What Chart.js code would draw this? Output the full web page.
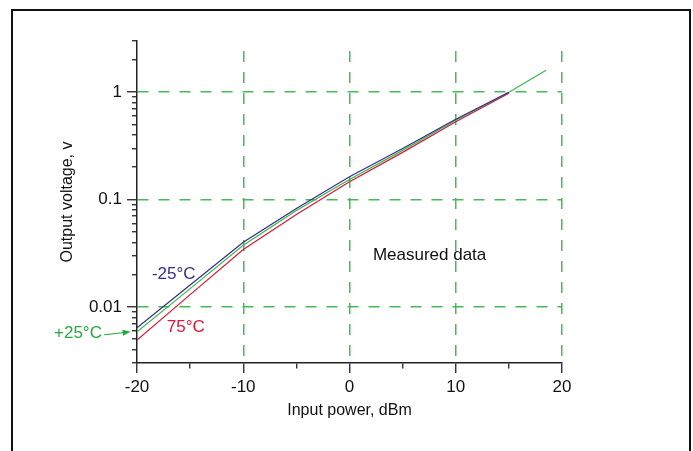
<!DOCTYPE html>
<html>
<head>
<meta charset="utf-8">
<script src="https://cdn.jsdelivr.net/npm/chart.js@4/dist/chart.umd.min.js"></script>
<style>
html, body { margin: 0; padding: 0; background: #fff; }
#wrap { width: 693px; height: 451px; }
</style>
</head>
<body>
<div id="wrap"><canvas id="detector" width="693" height="451"></canvas></div>
<script>
// measured detector output vs input power, three temperatures
const inputPower = [-20, -15, -10, -5, 0, 5, 10, 15];
const inputPowerRoom = [-20, -15, -10, -5, 0, 5, 10, 15, 18.5];
const voltsCold = [0.0064, 0.0160, 0.0400, 0.0826, 0.163, 0.299, 0.561, 1.0];
const voltsRoom = [0.00585, 0.0148, 0.0375, 0.0789, 0.154, 0.287, 0.549, 1.0, 1.6];
const voltsHot = [0.0049, 0.0130, 0.0343, 0.0726, 0.1465, 0.275, 0.530, 0.98];

const xTicks = [-20, -15, -10, -5, 0, 5, 10, 15, 20];
const xLabelled = [-20, -10, 0, 10, 20];
const xGrid = [-10, 0, 10, 20];
const yMajor = [0.01, 0.1, 1];
const yMinor = [0.003, 0.004, 0.005, 0.006, 0.007, 0.008, 0.009,
                0.02, 0.03, 0.04, 0.05, 0.06, 0.07, 0.08, 0.09,
                0.2, 0.3, 0.4, 0.5, 0.6, 0.7, 0.8, 0.9, 2, 3];
const yLabels = ['0.01', '0.1', '1'];

const notes = [
  {text: '-25\u00B0C', x: -18.6, y: 0.0200, color: '#3a2a8c', align: 'left'},
  {text: '75\u00B0C', x: -17.2, y: 0.0064, color: '#e0143c', align: 'left'},
  {text: '+25\u00B0C', x: -23.3, y: 0.0057, color: '#22aa3c', align: 'right'},
  {text: 'Measured data', x: 2.2, y: 0.0305, color: '#111', align: 'left'}
];
const arrowFrom = {x: -23.1, y: 0.0055};
const arrowTo = {x: -20.6, y: 0.00585};

const gridGreen = '#44bb55';
const font = 'Liberation Sans, Arial, sans-serif';

function pts(xs, ys) {
  return xs.map((x, i) => ({x: x, y: ys[i]}));
}

const annotate = {
  id: 'annotate',
  afterDraw(chart) {
    const c = chart.ctx;
    const xs = chart.scales.x, ys = chart.scales.y;
    c.save();
    // outer frame
    c.strokeStyle = '#111';
    c.lineWidth = 2;
    c.strokeRect(12, 10, 678, 470);

    c.font = '17px ' + font;
    c.textBaseline = 'middle';
    notes.forEach(n => {
      c.fillStyle = n.color;
      c.textAlign = n.align;
      c.fillText(n.text, xs.getPixelForValue(n.x), ys.getPixelForValue(n.y));
    });

    const x1 = xs.getPixelForValue(arrowFrom.x), y1 = ys.getPixelForValue(arrowFrom.y);
    const x2 = xs.getPixelForValue(arrowTo.x), y2 = ys.getPixelForValue(arrowTo.y);
    const ang = Math.atan2(y2 - y1, x2 - x1);
    c.strokeStyle = '#22aa3c';
    c.fillStyle = '#22aa3c';
    c.lineWidth = 1.2;
    c.beginPath();
    c.moveTo(x1, y1);
    c.lineTo(x2 - 6 * Math.cos(ang), y2 - 6 * Math.sin(ang));
    c.stroke();
    c.beginPath();
    c.moveTo(x2, y2);
    c.lineTo(x2 - 8 * Math.cos(ang) + 3 * Math.sin(ang), y2 - 8 * Math.sin(ang) - 3 * Math.cos(ang));
    c.lineTo(x2 - 8 * Math.cos(ang) - 3 * Math.sin(ang), y2 - 8 * Math.sin(ang) + 3 * Math.cos(ang));
    c.closePath();
    c.fill();
    c.restore();
  }
};

const ctx = document.getElementById('detector');
new Chart(ctx, {
  type: 'line',
  data: {
    datasets: [
      {label: '-25C', data: pts(inputPower, voltsCold), borderColor: '#3a2a8c'},
      {label: '+25C', data: pts(inputPowerRoom, voltsRoom), borderColor: '#33bb44'},
      {label: '75C', data: pts(inputPower, voltsHot), borderColor: '#e0143c'}
    ]
  },
  options: {
    responsive: false,
    animation: false,
    devicePixelRatio: 1,
    layout: {padding: {left: 0, top: 41, right: 131, bottom: 0}},
    elements: {
      line: {borderWidth: 1.2, tension: 0, fill: false},
      point: {radius: 0}
    },
    plugins: {legend: {display: false}, tooltip: {enabled: false}},
    scales: {
      x: {
        type: 'linear',
        min: -20,
        max: 20,
        afterBuildTicks: s => { s.ticks = xTicks.map(v => ({value: v})); },
        afterFit: s => { s.height = 88; },
        ticks: {
          autoSkip: false,
          maxRotation: 0,
          padding: 4,
          color: '#111',
          font: {family: font, size: 17},
          callback: v => xLabelled.includes(v) ? String(v) : ''
        },
        grid: {
          color: c => c.tick && xGrid.includes(c.tick.value) ? gridGreen : 'rgba(0,0,0,0)',
          lineWidth: 1.5,
          tickLength: 10,
          tickColor: '#222',
          tickWidth: 1.3,
          tickBorderDash: c => c.tick && xLabelled.includes(c.tick.value) ? [] : [5, 5]
        },
        border: {display: true, color: '#222', width: 1.5, dash: [11, 10], dashOffset: 11},
        title: {
          display: true,
          text: 'Input power, dBm',
          color: '#111',
          font: {family: font, size: 16},
          padding: {top: 0, bottom: 31}
        }
      },
      y: {
        type: 'logarithmic',
        min: 0.003,
        max: 3,
        afterBuildTicks: s => {
          s.ticks = yMinor.concat(yMajor).sort((a, b) => a - b).map(v => ({value: v}));
        },
        afterFit: s => { s.width = 137; },
        ticks: {
          autoSkip: false,
          padding: 5,
          color: '#111',
          font: {family: font, size: 17},
          callback: v => {
            const i = yMajor.indexOf(v);
            return i >= 0 ? yLabels[i] : '';
          }
        },
        grid: {
          color: c => c.tick && yMajor.includes(c.tick.value) ? gridGreen : 'rgba(0,0,0,0)',
          lineWidth: 1.5,
          tickLength: 10,
          tickColor: '#222',
          tickWidth: 1.3,
          tickBorderDash: c => c.tick && yMajor.includes(c.tick.value) ? [] : [5, 5],
          tickBorderDashOffset: 5
        },
        border: {display: true, color: '#222', width: 1.5, dash: [11, 10]},
        title: {
          display: true,
          text: 'Output voltage, v',
          color: '#111',
          font: {family: font, size: 16},
          padding: {top: 58, bottom: 0}
        }
      }
    }
  },
  plugins: [annotate]
});
</script>
</body>
</html>
